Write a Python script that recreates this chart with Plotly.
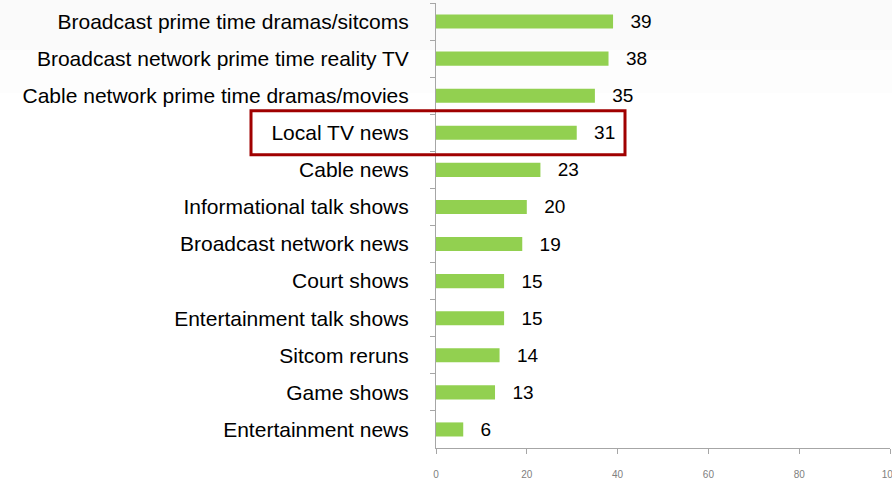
import plotly.graph_objects as go

categories = [
    "Broadcast prime time dramas/sitcoms",
    "Broadcast network prime time reality TV",
    "Cable network prime time dramas/movies",
    "Local TV news",
    "Cable news",
    "Informational talk shows",
    "Broadcast network news",
    "Court shows",
    "Entertainment talk shows",
    "Sitcom reruns",
    "Game shows",
    "Entertainment news",
]
values = [39, 38, 35, 31, 23, 20, 19, 15, 15, 14, 13, 6]
x_ticks = [0, 20, 40, 60, 80, 100]
highlight = "Local TV news"

W, H = 892, 481
ML, MR, MT, MB = 436, 2, 3, 33

fig = go.Figure()
fig.add_trace(go.Bar(
    y=categories, x=values, orientation="h",
    marker=dict(color="#92D050", line=dict(width=0)),
    text=[f"  \u2009{v}" for v in values], textposition="outside",
    constraintext="none",
    textfont=dict(family="Liberation Sans, Arial, sans-serif", size=19, color="#000000"),
    cliponaxis=False, width=0.38,
))

pw = W - ML - MR
ph = H - MT - MB


def px_to_py(ypx):
    return (H - MB - ypx) / ph


# faint top background gradient bands
for top, bot, col in [(0, 50, "#FAFAFA"), (50, 93, "#FDFDFD")]:
    fig.add_shape(type="rect", xref="paper", yref="paper", layer="below",
                  x0=-ML / pw, x1=(W - ML) / pw,
                  y0=px_to_py(bot), y1=px_to_py(top),
                  line=dict(width=0), fillcolor=col)

idx = categories.index(highlight)
n = len(categories)
yc = 1 - (idx + 0.5) / n
fig.add_shape(type="rect", xref="paper", yref="paper",
              x0=(251 - ML) / pw, x1=(625 - ML) / pw,
              y0=yc - 22 / ph, y1=yc + 22 / ph,
              line=dict(color="#A00000", width=3), fillcolor="rgba(0,0,0,0)")

fig.update_layout(
    width=W, height=H,
    margin=dict(l=ML, r=MR, t=MT, b=MB, autoexpand=False),
    plot_bgcolor="rgba(0,0,0,0)", paper_bgcolor="white",
    showlegend=False,
    font=dict(family="Liberation Sans, Arial, sans-serif"),
)
fig.update_yaxes(
    autorange="reversed", categoryorder="array", categoryarray=categories,
    showline=True, linecolor="#A6A6A6", linewidth=1,
    ticks="outside", tickson="boundaries", ticklen=5, tickcolor="#A6A6A6",
    ticklabelstandoff=22, automargin=False,
    tickfont=dict(size=21, color="#000000"), showgrid=False,
)
fig.update_xaxes(
    range=[0, 100], tickvals=x_ticks, ticktext=[str(t) for t in x_ticks],
    showline=True, linecolor="#A6A6A6", linewidth=1,
    ticks="outside", ticklen=5, tickcolor="#A6A6A6",
    ticklabelstandoff=12, automargin=False, ticklabeloverflow="allow",
    tickfont=dict(size=10, color="#808080"), showgrid=False, zeroline=False,
)

fig.write_html("out.html", config={"displayModeBar": False},
               post_script="document.body.style.margin='0';document.body.style.overflow='hidden';")
